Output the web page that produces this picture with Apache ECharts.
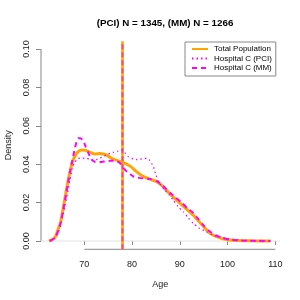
<!DOCTYPE html>
<html><head><meta charset="utf-8">
<script src="https://cdn.jsdelivr.net/npm/echarts@6/dist/echarts.min.js"></script>
<style>html,body{margin:0;padding:0;background:#fff}#c{width:300px;height:300px}</style>
</head><body><div id="c"></div>
<script>
var titleText = "(PCI) N = 1345, (MM) N = 1266";
var seriesNames = ["Total Population", "Hospital C (PCI)", "Hospital C (MM)"];
var xTicks = [70, 80, 90, 100, 110];
var yTicks = [0, 0.02, 0.04, 0.06, 0.08, 0.10];
var xRange = [60.93, 110.9];
var yRange = [-0.00432, 0.104];
var medianAge = 78;

var totalAge = [62.6,63.5,64,64.5,65,65.5,66,66.5,67,67.5,68,68.7,69.5,70.3,71.2,72.2,73.3,74.2,74.7,75.7,77.1,78.2,79.6,81,82.4,83.8,85.2,86.5,87.9,89.4,90.7,92,93,94,95,96,97,98,99,100,102,105,109];
var totalDens = [0,0.001,0.0025,0.006,0.0095,0.016,0.023,0.030,0.036,0.041,0.044,0.0465,0.0474,0.0472,0.0462,0.0453,0.0456,0.0452,0.0447,0.0431,0.0417,0.0408,0.039,0.036,0.0335,0.0322,0.0309,0.0283,0.0246,0.0212,0.0182,0.0153,0.013,0.0102,0.0075,0.0048,0.003,0.002,0.0012,0.0007,0.0003,0.0001,0];

var pciAge = [62.8,63.5,64,64.5,65,65.5,66,66.5,67,67.5,68,68.7,69.5,70.5,71.2,71.9,72.6,73.3,74,74.7,75.4,76.1,77,77.8,78.5,79.2,80.3,81,81.7,82.5,83.1,83.7,84.1,84.5,85,85.5,86.2,86.9,87.8,88.6,89.6,90.7,91.8,92.8,94,95.6,97,98.4,100,101.2,103,106,109];
var pciDens = [0,0.001,0.002,0.004,0.008,0.013,0.019,0.025,0.032,0.038,0.041,0.043,0.0432,0.0431,0.0425,0.0422,0.0425,0.0432,0.044,0.0448,0.0457,0.0462,0.0468,0.0474,0.046,0.0439,0.0427,0.0424,0.0426,0.043,0.043,0.042,0.0405,0.0385,0.0345,0.031,0.0285,0.0265,0.024,0.0214,0.018,0.0153,0.012,0.0092,0.0068,0.0048,0.003,0.0022,0.0012,0.0009,0.0004,0.0001,0];

var mmAge = [62.8,63.5,64,64.5,65,65.5,66,66.5,67,67.5,68,68.7,69.2,69.8,70.3,70.8,71.5,72.2,73,73.6,74.5,75.5,76.5,77.5,78.2,79,79.6,80.3,81,82.4,83.8,85.2,86.5,88,89.2,90.4,91.6,92.8,94,95,96.3,97.5,99,100.5,103,106,109];
var mmDens = [0,0.001,0.0025,0.005,0.009,0.015,0.022,0.029,0.036,0.042,0.048,0.0535,0.0535,0.0522,0.049,0.0462,0.0425,0.0412,0.041,0.0412,0.0415,0.0418,0.0418,0.0405,0.038,0.036,0.0348,0.0336,0.0331,0.0326,0.0323,0.0312,0.0286,0.025,0.0225,0.020,0.017,0.0147,0.011,0.008,0.0049,0.003,0.0015,0.0007,0.0002,0.0001,0];

function pairs(a, b) { return a.map(function (v, i) { return [v, b[i]]; }); }

var chart = echarts.init(document.getElementById('c'), null, {renderer: 'canvas'});
var font = 'Liberation Sans, Arial, sans-serif';
var axisGray = '#888';
function deco(name, data, color, width, type) {
  return {name: name, type: 'line', clip: false, symbol: 'none', silent: true, z: 3,
    data: data, lineStyle: {color: color, width: width, type: type || 'solid'}};
}
chart.setOption({
  animation: false,
  title: {text: titleText, left: 160, top: 13, textAlign: 'center',
    textStyle: {fontFamily: font, fontSize: 9.8, fontWeight: 'bold', color: '#000'}},
  legend: {
    data: seriesNames, orient: 'vertical', left: 185, top: 42,
    itemWidth: 16, itemHeight: 8, itemGap: 1.5, padding: [3, 4, 4, 6],
    borderColor: axisGray, borderWidth: 1,
    itemStyle: {opacity: 0},
    textStyle: {fontFamily: font, fontSize: 8, color: '#000', padding: [0, 0, 0, 1]}
  },
  grid: {left: 41, right: 20.4, top: 41.3, bottom: 50.7, containLabel: false, outerBoundsMode: 'none'},
  xAxis: {
    type: 'value', min: xRange[0], max: xRange[1],
    splitLine: {show: false},
    axisLine: {show: false},
    axisTick: {show: true, length: 4, customValues: xTicks, lineStyle: {color: axisGray}},
    axisLabel: {margin: 10.5, customValues: xTicks, fontFamily: font, fontSize: 9, color: '#222'},
    name: 'Age', nameLocation: 'middle', nameGap: 30.5,
    nameTextStyle: {fontFamily: font, fontSize: 9, color: '#222'}
  },
  yAxis: {
    type: 'value', min: yRange[0], max: yRange[1],
    splitLine: {show: false},
    axisLine: {show: false},
    axisTick: {show: true, length: 5, customValues: yTicks, lineStyle: {color: axisGray}},
    axisLabel: {rotate: 90, margin: 10, customValues: yTicks, fontFamily: font, fontSize: 9, color: '#222',
      formatter: function (v) { return v.toFixed(2); }},
    name: 'Density', nameLocation: 'middle', nameGap: 27.5,
    nameTextStyle: {fontFamily: font, fontSize: 9, color: '#222'}
  },
  series: [
    deco('xAxisLine', [[xTicks[0], yRange[0]], [xTicks[xTicks.length - 1], yRange[0]]], axisGray, 1),
    deco('yAxisLine', [[xRange[0], yTicks[0]], [xRange[0], yTicks[yTicks.length - 1]]], axisGray, 1),
    deco('zero', [[xRange[0], 0], [xRange[1], 0]], '#e2e2e2', 1),
    {name: seriesNames[0], type: 'line', clip: false, symbol: 'none', smooth: 0.2, z: 4,
      data: pairs(totalAge, totalDens), lineStyle: {color: '#FFA500', width: 3},
      itemStyle: {color: '#FFA500'}},
    {name: seriesNames[1], type: 'line', clip: false, symbol: 'none', smooth: 0.2, z: 5,
      data: pairs(pciAge, pciDens), lineStyle: {color: '#FF00FF', width: 1.3, type: [1.5, 3]},
      itemStyle: {color: '#FF00FF'}},
    {name: seriesNames[2], type: 'line', clip: false, symbol: 'none', smooth: 0.2, z: 5,
      data: pairs(mmAge, mmDens), lineStyle: {color: '#FF00FF', width: 2, type: [5, 4]},
      itemStyle: {color: '#FF00FF'}},
    deco('median', [[medianAge, yRange[0]], [medianAge, yRange[1]]], '#FFA500', 2.6),
    deco('median2', [[medianAge, yRange[0]], [medianAge, yRange[1]]], '#FF4088', 2, [5, 3])
  ]
});
</script></body></html>
